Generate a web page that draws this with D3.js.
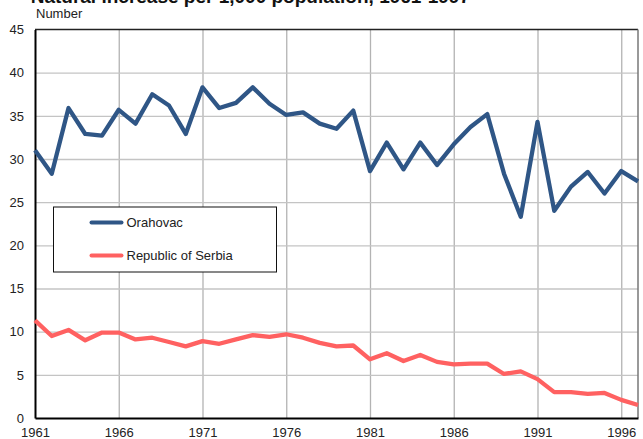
<!DOCTYPE html>
<html>
<head>
<meta charset="utf-8">
<script src="https://cdn.jsdelivr.net/npm/d3@7"></script>
<style>
  body { margin: 0; background: #fff; }
  svg { display: block; font-family: "Liberation Sans", Arial, sans-serif; }
</style>
</head>
<body>
<div id="chart"></div>
<script>
// Años y series (por 1.000 habitantes)
const years = d3.range(1961, 1998);
const orahovac = [31.0, 28.3, 35.9, 32.9, 32.7, 35.7, 34.1, 37.5, 36.2, 32.9,
    38.3, 35.9, 36.5, 38.3, 36.4, 35.1, 35.4, 34.1, 33.5, 35.6,
    28.6, 31.9, 28.8, 31.9, 29.3, 31.7, 33.7, 35.2, 28.3, 23.3,
    34.3, 24.0, 26.8, 28.5, 26.0, 28.6, 27.4];
const serbia = [11.3, 9.5, 10.2, 9.0, 9.9, 9.9, 9.1, 9.3, 8.8, 8.3,
    8.9, 8.6, 9.1, 9.6, 9.4, 9.7, 9.3, 8.7, 8.3, 8.4,
    6.8, 7.5, 6.6, 7.3, 6.5, 6.2, 6.3, 6.3, 5.1, 5.4,
    4.5, 3.0, 3.0, 2.8, 2.9, 2.1, 1.5];
const xTicks = [1961, 1966, 1971, 1976, 1981, 1986, 1991, 1996];
const yTicks = [0, 5, 10, 15, 20, 25, 30, 35, 40, 45];
const seriesNames = ["Orahovac", "Republic of Serbia"];
const colors = ["#2f5686", "#ff6161"];

const width = 643, height = 439;
const mLeft = 35, mRight = 638, mTop = 29.5, mBottom = 418;

const svg = d3.select("#chart").append("svg")
    .attr("width", width)
    .attr("height", height);

const x = d3.scaleLinear().domain([1961, 1997]).range([mLeft, mRight]);
const y = d3.scaleLinear().domain([0, 45]).range([mBottom, mTop]);

// Título (cortado arriba en el original)
svg.append("text")
    .attr("x", 470)
    .attr("y", 2.5)
    .attr("text-anchor", "end")
    .attr("font-size", "19px")
    .attr("font-weight", "bold")
    .attr("fill", "#111")
    .text("Natural increase per 1,000 population, 1961-1997");

svg.append("text")
    .attr("x", 36)
    .attr("y", 17.5)
    .attr("font-size", "13px")
    .attr("fill", "#222")
    .text("Number");

// Rejilla
svg.append("g")
    .attr("transform", `translate(0,${mBottom})`)
    .call(d3.axisBottom(x).tickValues(xTicks.slice(1)).tickSize(-(mBottom - mTop)).tickFormat(""))
    .call(g => g.select(".domain").remove())
    .call(g => g.selectAll("line").attr("stroke", "#b3b3b3").attr("stroke-width", 1.3));

svg.append("g")
    .attr("transform", `translate(${mLeft},0)`)
    .call(d3.axisLeft(y).tickValues(yTicks.slice(1, -1)).tickSize(-(mRight - mLeft)).tickFormat(""))
    .call(g => g.select(".domain").remove())
    .call(g => g.selectAll("line").attr("stroke", "#c4c4c4").attr("stroke-width", 1.3));

// Marco
svg.append("line").attr("x1", mLeft).attr("x2", mRight).attr("y1", mTop).attr("y2", mTop)
    .attr("stroke", "#222").attr("stroke-width", 1.3);
svg.append("line").attr("x1", mRight).attr("x2", mRight).attr("y1", mTop).attr("y2", mBottom)
    .attr("stroke", "#777").attr("stroke-width", 1.5);

// Ejes
const xAxis = svg.append("g")
    .attr("transform", `translate(0,${mBottom})`)
    .call(d3.axisBottom(x).tickValues(xTicks).tickSize(0).tickPadding(10).tickFormat(d3.format("d")));
xAxis.select(".domain").attr("stroke", "#000").attr("stroke-width", 2);
xAxis.selectAll("text").attr("font-size", "13px").attr("fill", "#222").attr("font-family", "Liberation Sans, Arial, sans-serif");

const yAxis = svg.append("g")
    .attr("transform", `translate(${mLeft},0)`)
    .call(d3.axisLeft(y).tickValues(yTicks).tickSize(0).tickPadding(11));
yAxis.select(".domain").attr("stroke", "#000").attr("stroke-width", 2);
yAxis.selectAll("text").attr("font-size", "13px").attr("fill", "#222").attr("font-family", "Liberation Sans, Arial, sans-serif");

// Líneas
const line = d3.line().x((d, i) => x(years[i])).y(d => y(d));
[orahovac, serbia].forEach((s, i) => {
    svg.append("path")
        .datum(s)
        .attr("fill", "none")
        .attr("stroke", colors[i])
        .attr("stroke-width", 4.3)
        .attr("stroke-linejoin", "round")
        .attr("d", line);
});

// Leyenda
const legend = svg.append("g").attr("transform", "translate(53.5,207)");
legend.append("rect")
    .attr("width", 223)
    .attr("height", 65)
    .attr("fill", "#fff")
    .attr("stroke", "#111")
    .attr("stroke-width", 1);
seriesNames.forEach((name, i) => {
    const yy = 15.5 + i * 33;
    legend.append("line")
        .attr("x1", 38).attr("x2", 68)
        .attr("y1", yy).attr("y2", yy)
        .attr("stroke", colors[i])
        .attr("stroke-width", 4)
        .attr("stroke-linecap", "round");
    legend.append("text")
        .attr("x", 73)
        .attr("y", yy + 4.5)
        .attr("font-size", "13px")
        .attr("fill", "#222")
        .text(name);
});
</script>
</body>
</html>
